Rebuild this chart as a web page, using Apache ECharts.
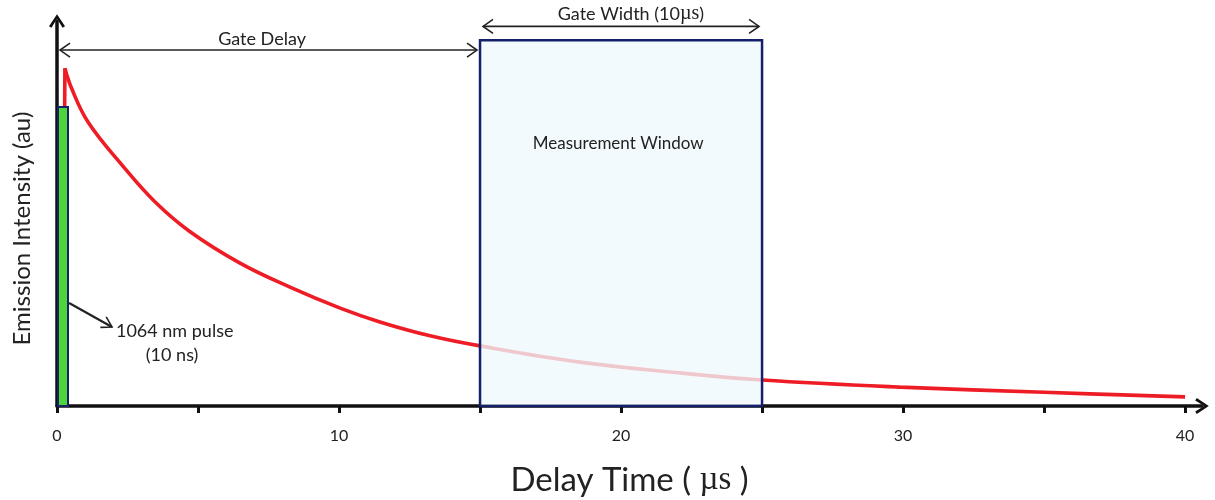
<!DOCTYPE html>
<html>
<head>
<meta charset="utf-8">
<script src="https://cdn.jsdelivr.net/npm/echarts@6/dist/echarts.min.js"></script>
<style>
  html, body { margin: 0; padding: 0; background: #ffffff; }
  #chart { width: 1215px; height: 500px; }
</style>
</head>
<body>
<div id="chart"></div>
<script>
// Emission decay after the laser pulse (arbitrary units, peak = 100)
const delayTime = [0.21, 0.28, 0.52, 1.10, 2.30, 3.48, 4.72, 6.49, 8.26, 10.04, 11.45, 13.23, 15.0, 18.55, 22.09, 25.0, 29.9, 35.0, 40.0];
const intensity = [0, 100, 94, 84.1, 71.4, 60.4, 51.6, 42.3, 35.2, 29.0, 24.9, 20.8, 17.8, 13.0, 9.8, 7.7, 5.6, 4.05, 2.7];

// x-axis ticks and labelled values (µs)
const tickValues = [0, 5, 10, 15, 20, 25, 30, 35, 40];
const labelValues = [0, 10, 20, 30, 40];

// rectangles: [start µs, end µs, height au]
const pulseBar = [[0.035, 0.39, 88.5]];
const gateWindow = [[15, 25, 108.3]];

// double-headed span arrows: [start µs, end µs, level au]
const spanArrows = [[0, 15, 105.4], [15, 25, 112.4]];
// pointer from the pulse bar to its caption: [fromX, fromY, toX, toY]
const pulsePointer = [[0.43, 30.5, 1.95, 23.4]];

// annotation texts with their anchors (µs, au)
const noteTexts = ['Gate Delay', 'Gate Width (10{mu|µs})', 'Measurement Window', '1064 nm pulse', '(10 ns)'];
const noteX = [7.27, 20.35, 19.9, 2.09, 4.08];
const noteY = [108.5, 116.1, 77.8, 22.2, 15.1];

const FONT = 'Lato, "Open Sans", sans-serif';
const SERIF = '"Liberation Serif", "DejaVu Serif", serif';
const INK = '#222222';
const NOTE_SIZES = [18, 18, 17, 18, 18];

// open chevron used as the axis arrow head (points up before rotation)
const chevron = 'path://M0,12 L8,0 L16,12 L13.6,13.6 L8,4.6 L2.4,13.6 Z';

function rectItem(fill, stroke, lineWidth) {
  return function (params, api) {
    const p0 = api.coord([api.value(0), 0]);
    const p1 = api.coord([api.value(1), api.value(2)]);
    return {
      type: 'rect',
      shape: { x: p0[0], y: p1[1], width: p1[0] - p0[0], height: p0[1] - p1[1] },
      style: { fill: fill, stroke: stroke, lineWidth: lineWidth }
    };
  };
}

function headLines(tip, dirX, dirY, len, half) {
  // two strokes of an open arrow head ending at tip, pointing along (dirX, dirY)
  const nx = -dirY, ny = dirX;
  const bx = tip[0] - dirX * len, by = tip[1] - dirY * len;
  return {
    type: 'polyline',
    shape: { points: [[bx + nx * half, by + ny * half], tip, [bx - nx * half, by - ny * half]] },
    style: { stroke: INK, lineWidth: 1.6, fill: null }
  };
}

const curve = delayTime.map((t, i) => [t, intensity[i]]);
const lineStyle = { color: '#ee1c25', width: 3.6 };

const chart = echarts.init(document.getElementById('chart'), null, { renderer: 'canvas' });

chart.setOption({
  animation: false,
  backgroundColor: '#ffffff',
  grid: { left: 57, right: 13, top: 21, bottom: 94, containLabel: false, outerBoundsMode: 'none' },
  xAxis: {
    type: 'value',
    min: 0,
    max: 40.6,
    interval: 5,
    name: 'Delay Time ( {mu|µs} )',
    nameLocation: 'middle',
    nameGap: 58,
    nameTextStyle: {
      fontFamily: FONT, fontSize: 33, color: INK,
      rich: { mu: { fontFamily: SERIF, fontSize: 33, color: INK } }
    },
    axisLine: {
      show: true,
      symbol: ['none', chevron],
      symbolSize: [16, 14],
      lineStyle: { color: '#111111', width: 3.5 }
    },
    axisTick: {
      show: true, inside: false, length: 7,
      customValues: tickValues,
      lineStyle: { color: '#111111', width: 3 }
    },
    axisLabel: {
      show: true, margin: 22, customValues: labelValues,
      fontFamily: FONT, fontSize: 16, color: INK
    },
    splitLine: { show: false }
  },
  yAxis: {
    type: 'value',
    min: 0,
    max: 114,
    name: 'Emission Intensity (au)',
    nameLocation: 'middle',
    nameGap: 23,
    nameRotate: 90,
    nameTextStyle: { fontFamily: FONT, fontSize: 24, color: INK, padding: [0, 30, 0, 0] },
    axisLine: {
      show: true,
      symbol: ['none', chevron],
      symbolSize: [16, 14],
      lineStyle: { color: '#111111', width: 3.5 }
    },
    axisTick: { show: false },
    axisLabel: { show: false },
    splitLine: { show: false }
  },
  series: [
    {
      // sharp rise at the pulse
      name: 'Emission rise',
      type: 'line',
      data: curve.slice(0, 2),
      showSymbol: false,
      lineStyle: lineStyle,
      z: 2
    },
    {
      // decay after the peak
      name: 'Emission',
      type: 'line',
      data: curve.slice(1),
      smooth: 0.4,
      showSymbol: false,
      lineStyle: lineStyle,
      z: 2
    },
    {
      name: 'Measurement window',
      type: 'custom',
      data: gateWindow,
      renderItem: rectItem('rgba(240,249,252,0.78)', '#14206b', 2.5),
      z: 3
    },
    {
      name: 'Laser pulse',
      type: 'custom',
      data: pulseBar,
      renderItem: rectItem('#4cd63a', '#16206b', 2),
      z: 4
    },
    {
      name: 'Spans',
      type: 'custom',
      data: spanArrows,
      clip: false,
      renderItem: function (params, api) {
        const a = api.coord([api.value(0), api.value(2)]);
        const b = api.coord([api.value(1), api.value(2)]);
        a[0] += 3; b[0] -= 3;
        return {
          type: 'group',
          children: [
            { type: 'line', shape: { x1: a[0], y1: a[1], x2: b[0], y2: b[1] }, style: { stroke: INK, lineWidth: 1.6 } },
            headLines(a, -1, 0, 10, 7),
            headLines(b, 1, 0, 10, 7)
          ]
        };
      },
      z: 5
    },
    {
      name: 'Pointer',
      type: 'custom',
      data: pulsePointer,
      clip: false,
      renderItem: function (params, api) {
        const a = api.coord([api.value(0), api.value(1)]);
        const b = api.coord([api.value(2), api.value(3)]);
        const dx = b[0] - a[0], dy = b[1] - a[1];
        const len = Math.sqrt(dx * dx + dy * dy);
        return {
          type: 'group',
          children: [
            { type: 'line', shape: { x1: a[0], y1: a[1], x2: b[0], y2: b[1] }, style: { stroke: INK, lineWidth: 2.2 } },
            headLines(b, dx / len, dy / len, 10, 6)
          ]
        };
      },
      z: 5
    },
    {
      name: 'Notes',
      type: 'custom',
      data: noteTexts.map((t, i) => [noteX[i], noteY[i], i]),
      clip: false,
      renderItem: function (params, api) {
        const i = params.dataIndex;
        const p = api.coord([api.value(0), api.value(1)]);
        return {
          type: 'text',
          x: p[0], y: p[1],
          style: {
            text: noteTexts[i],
            fontFamily: FONT,
            fontSize: NOTE_SIZES[i],
            fill: INK,
            align: i === 3 ? 'left' : 'center',
            verticalAlign: 'middle',
            rich: { mu: { fontFamily: SERIF, fontSize: 20, fill: INK } }
          }
        };
      },
      z: 6
    }
  ]
});
</script>
</body>
</html>
